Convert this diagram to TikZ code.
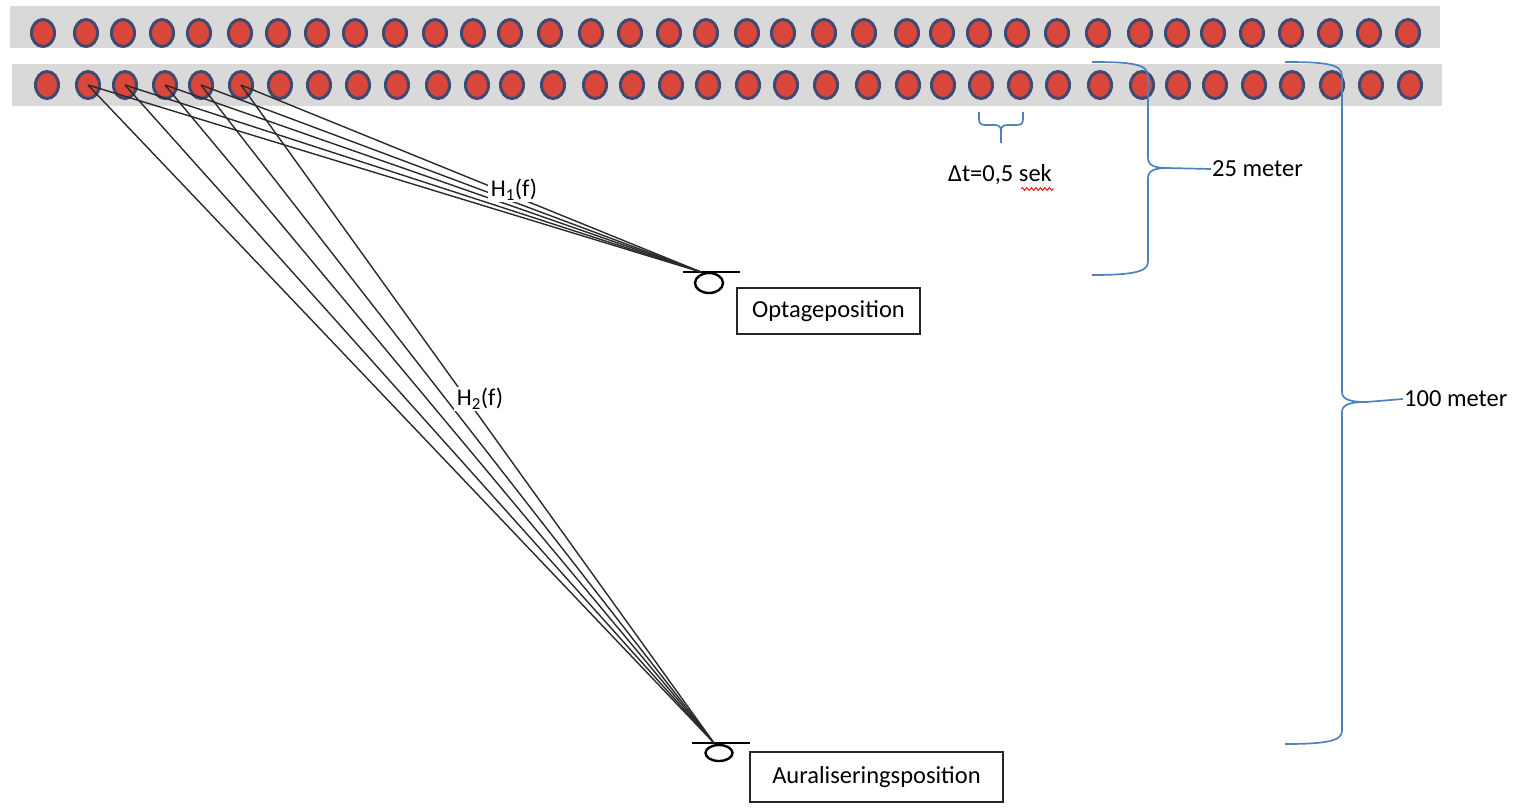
\documentclass[tikz,border=0pt]{standalone}
\usepackage{fontspec}
\setmainfont{Carlito}
\usetikzlibrary{decorations.pathmorphing,shapes.geometric}
\definecolor{stripgray}{HTML}{D9D9D9}
\definecolor{dotred}{HTML}{D9473A}
\definecolor{dotrim}{HTML}{3E4A72}
\definecolor{braceblue}{HTML}{4F81BD}
\definecolor{raycol}{HTML}{2A2A2A}
\tikzset{
  dot/.style={ellipse,minimum width=23pt,minimum height=27pt,inner sep=0pt,draw=dotrim,line width=3pt,fill=dotred},
  strip/.style={fill=stripgray,draw=none},
  ray/.style={draw=raycol,line width=1.4pt},
  bracepath/.style={draw=braceblue,line width=1.7pt},
  lbl/.style={font=\fontsize{24.5}{28}\selectfont,inner sep=1pt},
  hlbl/.style={font=\fontsize{24}{28}\selectfont,fill=white,inner xsep=3pt,inner ysep=1pt},
  posbox/.style={draw=black!85,line width=1.4pt,font=\fontsize{24.5}{28}\selectfont,inner sep=0pt},
  micring/.style={draw=black,line width=2.4pt},
  micbar/.style={draw=black,line width=1.4pt},
}
\begin{document}
\begin{tikzpicture}[x=1pt,y=-1pt]
\useasboundingbox (0,0) rectangle (1518,807);
% strips
\fill[strip] (10,6) rectangle (1440,48);
\fill[strip] (12,64) rectangle (1442,106);
% dots
\foreach \x [count=\i] in {43,86,123,162,199,240,278,317,355,395,435,473,510,550,591,630,669,706,747,783,824,864,907,942,979,1017,1057,1098,1140,1177,1213,1252,1291,1330,1369,1408}
  \node[dot] (t\i) at (\x,33) {};
\foreach \x [count=\i] in {47,88,125,165,201,241,280,319,358,397,438,477,512,553,595,632,671,708,748,786,826,868,908,943,981,1020,1058,1100,1142,1178,1215,1254,1292,1332,1371,1410}
  \node[dot] (b\i) at (\x,85) {};
% microphones
\coordinate (m1) at (701,272);
\coordinate (m2) at (714,743);
\draw[micring] (709,283) ellipse [x radius=14, y radius=10];
\draw[micbar] (683,272) -- (740,272);
\draw[micring] (719,753) ellipse [x radius=13.5, y radius=8];
\draw[micbar] (692,743) -- (750,743);
% rays
\foreach \i in {2,...,6} {
  \draw[ray] (b\i.center) -- (m1);
  \draw[ray] (b\i.center) -- (m2);
}
% transfer labels
\node[hlbl] (h1) at (514,190) {H\textsubscript{1}(f)};
\node[hlbl] (h2) at (480,399) {H\textsubscript{2}(f)};
% position boxes
\node[posbox,minimum width=183pt,minimum height=46pt] (opt) at (828.5,311) {Optageposition};
\node[posbox,minimum width=253pt,minimum height=50pt] (aur) at (876.5,777) {Auraliseringsposition};
% delta t brace
\draw[bracepath] (979,112) -- (979,119) .. controls (979,124) and (981,125) .. (986,125) -- (995,125) .. controls (999,125) and (1001,127) .. (1001,131) -- (1001,143);
\draw[bracepath] (1023,112) -- (1023,119) .. controls (1023,124) and (1021,125) .. (1016,125) -- (1007,125) .. controls (1003,125) and (1001,127) .. (1001,131);
\node[lbl] (dt) at (1000,175) {Δt=0,5 sek};
\draw[red,line width=0.9pt,decorate,decoration={snake,amplitude=1.4pt,segment length=4.5pt}] (1021,189) -- (1054,189);
% 25 meter brace
\draw[bracepath] (1092,62) .. controls (1132,62) and (1148,64) .. (1148,76) -- (1148,158) .. controls (1148,165) and (1154,168) .. (1167,168);
\draw[bracepath] (1167,168) .. controls (1154,168) and (1148,171) .. (1148,178) -- (1148,262) .. controls (1148,272) and (1132,275) .. (1092,275);
\coordinate (tip25) at (1167,168);
\node[lbl,anchor=west] (m25) at (1211,169) {25 meter};
\draw[bracepath] (tip25) -- (m25.west);
% 100 meter brace
\draw[bracepath] (1285,62) .. controls (1326,62) and (1342,64) .. (1342,76) -- (1342,392) .. controls (1342,399) and (1349,402) .. (1366,402);
\draw[bracepath] (1366,402) .. controls (1349,402) and (1342,405) .. (1342,412) -- (1342,731) .. controls (1342,741) and (1326,744) .. (1285,744);
\coordinate (tip100) at (1366,402);
\node[lbl,anchor=west] (m100) at (1403,399) {100 meter};
\draw[bracepath] (tip100) -- (m100.west);
\end{tikzpicture}
\end{document}
